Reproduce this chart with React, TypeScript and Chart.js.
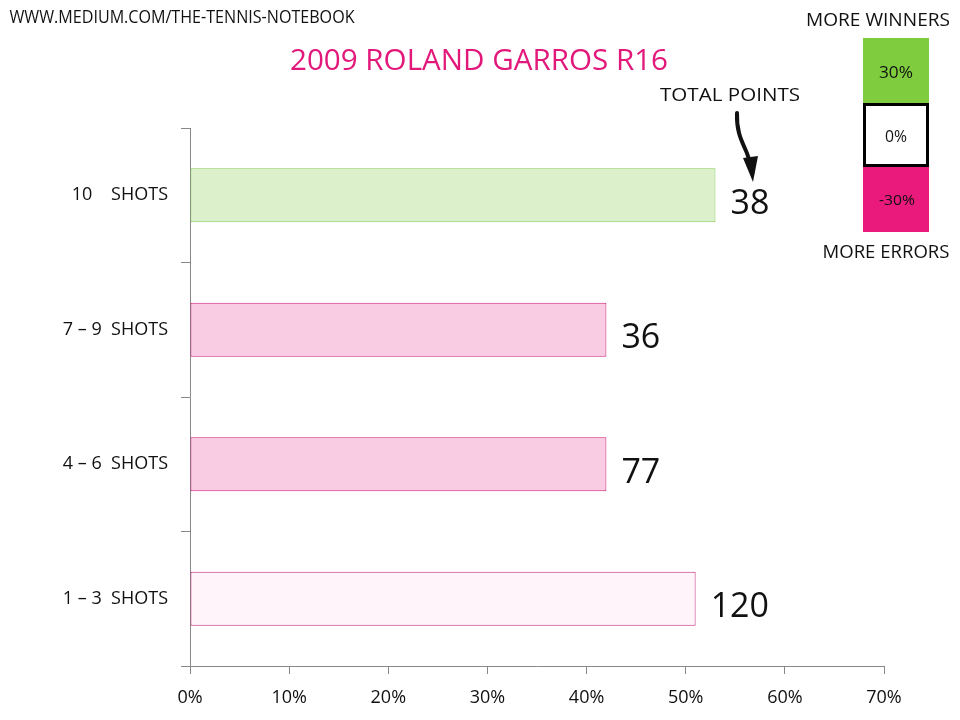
import React, { useEffect, useRef } from "react";
import { Chart, registerables } from "chart.js";

Chart.register(...registerables);

const categories = ["10    SHOTS", "7 – 9  SHOTS", "4 – 6  SHOTS", "1 – 3  SHOTS"];
const shareValues = [53, 42, 42, 51];
const totalPoints = ["38", "36", "77", "120"];
const barFills = ["#dcf0cc", "#f9cce4", "#f9cce4", "#fff4fa"];
const barBorders = ["#86cc55", "#cf1f7a", "#cf1f7a", "#c42a7c"];
const xTicks = [0, 10, 20, 30, 40, 50, 60, 70];
const legendLabels = ["30%", "0%", "-30%"];

const FONT = "'Open Sans', 'DejaVu Sans', sans-serif";

function fitText(
  ctx: CanvasRenderingContext2D,
  text: string,
  cx: number,
  cy: number,
  width: number,
  size: number,
  color: string,
  weight = "400"
) {
  ctx.save();
  ctx.font = `${weight} ${size}px ${FONT}`;
  ctx.fillStyle = color;
  ctx.textAlign = "center";
  ctx.textBaseline = "middle";
  const w = ctx.measureText(text).width;
  ctx.translate(cx, cy);
  ctx.scale(width / w, 1);
  ctx.fillText(text, 0, 0);
  ctx.restore();
}

const annotationPlugin = {
  id: "annotations",
  afterDraw(chart: any) {
    const ctx: CanvasRenderingContext2D = chart.ctx;
    // value labels
    const meta = chart.getDatasetMeta(0);
    ctx.save();
    ctx.font = `400 34px ${FONT}`;
    ctx.fillStyle = "#111";
    ctx.textAlign = "left";
    ctx.textBaseline = "middle";
    meta.data.forEach((bar: any, i: number) => {
      ctx.fillText(totalPoints[i], bar.x + 15, bar.y + 9);
    });
    ctx.restore();

    // watermark and title
    fitText(ctx, "WWW.MEDIUM.COM/THE-TENNIS-NOTEBOOK", 182, 18, 345, 18, "#111");
    fitText(ctx, "2009 ROLAND GARROS R16", 479, 61, 378, 30, "#e2187b");

    // total points annotation with arrow
    fitText(ctx, "TOTAL POINTS", 730, 96, 140, 19, "#111");
    ctx.save();
    ctx.strokeStyle = "#111";
    ctx.lineWidth = 4;
    ctx.lineCap = "round";
    ctx.beginPath();
    ctx.moveTo(737, 113);
    ctx.bezierCurveTo(736, 140, 748, 148, 750, 164);
    ctx.stroke();
    ctx.fillStyle = "#111";
    ctx.beginPath();
    ctx.moveTo(743, 158);
    ctx.lineTo(758, 156);
    ctx.lineTo(753, 182);
    ctx.closePath();
    ctx.fill();
    ctx.restore();

    // colour legend
    const lx = 863, lw = 66;
    ctx.save();
    ctx.fillStyle = "#7fcd3f";
    ctx.fillRect(lx, 38, lw, 65);
    ctx.fillStyle = "#ffffff";
    ctx.fillRect(lx, 103, lw, 64);
    ctx.strokeStyle = "#000";
    ctx.lineWidth = 3;
    ctx.strokeRect(lx + 1.5, 104.5, lw - 3, 61);
    ctx.fillStyle = "#e91a7b";
    ctx.fillRect(lx, 167, lw, 65);
    ctx.restore();
    fitText(ctx, legendLabels[0], 896, 73, 34, 17, "#111");
    fitText(ctx, legendLabels[1], 896, 137, 22, 17, "#111");
    fitText(ctx, legendLabels[2], 897, 201, 36, 15, "#111");
    fitText(ctx, "MORE WINNERS", 878, 21, 144, 19, "#111");
    fitText(ctx, "MORE ERRORS", 886, 253, 127, 19, "#111");
  },
};

export default function App() {
  const canvasRef = useRef<HTMLCanvasElement | null>(null);

  useEffect(() => {
    document.body.style.margin = "0";
    const canvas = canvasRef.current;
    if (!canvas) return;
    const chart = new Chart(canvas, {
      type: "bar",
      data: {
        labels: categories,
        datasets: [
          {
            data: shareValues,
            backgroundColor: barFills,
            borderColor: barBorders,
            borderWidth: 1,
            borderSkipped: false,
            categoryPercentage: 1,
            barPercentage: 0.4,
          },
        ],
      },
      options: {
        indexAxis: "y",
        responsive: false,
        animation: false,
        devicePixelRatio: 1,
        layout: { padding: { top: 128, right: 76, left: 0, bottom: 0 } },
        plugins: {
          legend: { display: false },
          title: { display: false },
          tooltip: { enabled: false },
        },
        scales: {
          x: {
            min: xTicks[0],
            max: xTicks[xTicks.length - 1],
            afterFit: (scale: any) => {
              scale.height = 54;
            },
            afterBuildTicks: (scale: any) => {
              scale.ticks = xTicks.map((v) => ({ value: v }));
            },
            ticks: {
              callback: (v: any) => `${v}%`,
              color: "#111",
              font: { family: FONT, size: 18 },
              padding: 13,
              maxRotation: 0,
            },
            grid: {
              drawOnChartArea: false,
              drawTicks: true,
              tickLength: 8,
              color: "#888",
            },
            border: { color: "#888", width: 1 },
          },
          y: {
            afterFit: (scale: any) => {
              scale.width = 190;
            },
            ticks: {
              color: "#111",
              font: { family: FONT, size: 18 },
              padding: 13,
            },
            grid: {
              drawOnChartArea: false,
              drawTicks: true,
              tickLength: 9,
              offset: true,
              color: "#888",
            },
            border: { color: "#888", width: 1 },
          },
        },
      },
      plugins: [annotationPlugin],
    } as any);
    return () => chart.destroy();
  }, []);

  return (
    <div style={{ position: "absolute", left: 0, top: 0, width: 960, height: 720, background: "#fff" }}>
      <canvas ref={canvasRef} width={960} height={720} />
    </div>
  );
}
